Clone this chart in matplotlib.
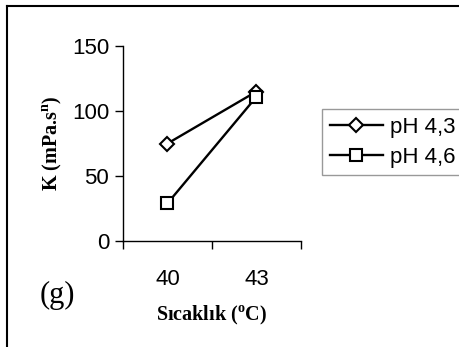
import matplotlib
matplotlib.use("Agg")
import matplotlib.pyplot as plt
from matplotlib.lines import Line2D

# Temperature categories and consistency index K per pH
temps = ["40", "43"]
k_ph43 = [75, 115]
k_ph46 = [29, 111]
series_labels = ["pH 4,3", "pH 4,6"]
y_ticks = [0, 50, 100, 150]

plt.rcParams["font.family"] = ["Liberation Sans", "DejaVu Sans"]

fig = plt.figure(figsize=(4.6, 3.47), dpi=100)
ax = fig.add_axes([123 / 460, 1 - 241 / 347, 178 / 460, 195 / 347])

# categories sit between the ticks, like a category axis
xpos = [i + 0.5 for i in range(len(temps))]
ax.plot(xpos, k_ph43, color="black", lw=1.7, marker="D", ms=7.5,
        mfc="white", mec="black", mew=1.5, label=series_labels[0])
ax.plot(xpos, k_ph46, color="black", lw=1.7, marker="s", ms=9,
        mfc="white", mec="black", mew=1.5, label=series_labels[1])

ax.set_xlim(0, len(temps))
ax.set_ylim(0, 150)
ax.set_xticks(range(len(temps) + 1))
ax.set_xticklabels([])
ax.set_xticks(xpos, minor=True)
ax.set_xticklabels(temps, minor=True, fontsize=16)
ax.tick_params(axis="x", which="minor", length=0, pad=20)
ax.tick_params(axis="x", which="major", length=6, width=1, direction="out")
ax.set_yticks(y_ticks)
ax.set_yticklabels([str(v) for v in y_ticks], fontsize=16)
ax.tick_params(axis="y", length=6, width=1, direction="out", pad=4)

for side in ["top", "right"]:
    ax.spines[side].set_visible(False)
for side in ["left", "bottom"]:
    ax.spines[side].set_linewidth(1)

ax.set_ylabel(r"K (mPa.s$^{\mathregular{n}}$)", family="Liberation Serif",
              weight="bold", fontsize=14.5, labelpad=6)
ax.set_xlabel(r"Sıcaklık ($^{\mathregular{o}}$C)", family="Liberation Serif",
              weight="bold", fontsize=14.5, labelpad=10)

fig.text(57 / 460, 1 - 295 / 347, "(g)", family="Liberation Serif",
         fontsize=22, ha="center", va="center")

leg = ax.legend(loc="upper left", bbox_to_anchor=(322 / 460, 1 - 109 / 347),
                bbox_transform=fig.transFigure, fontsize=16, frameon=True,
                fancybox=False, edgecolor="#808080", handlelength=2.4,
                handletextpad=0.3, borderpad=0.35, labelspacing=0.4,
                borderaxespad=0)
leg.get_frame().set_linewidth(1)

# outer frame of the panel
fig.add_artist(Line2D([7 / 460, 7 / 460], [0, 1 - 6 / 347], color="black",
                      lw=1.5, transform=fig.transFigure))
fig.add_artist(Line2D([7 / 460, 1], [1 - 6 / 347, 1 - 6 / 347], color="black",
                      lw=1.5, transform=fig.transFigure))

fig.savefig("out.png", dpi=100)
